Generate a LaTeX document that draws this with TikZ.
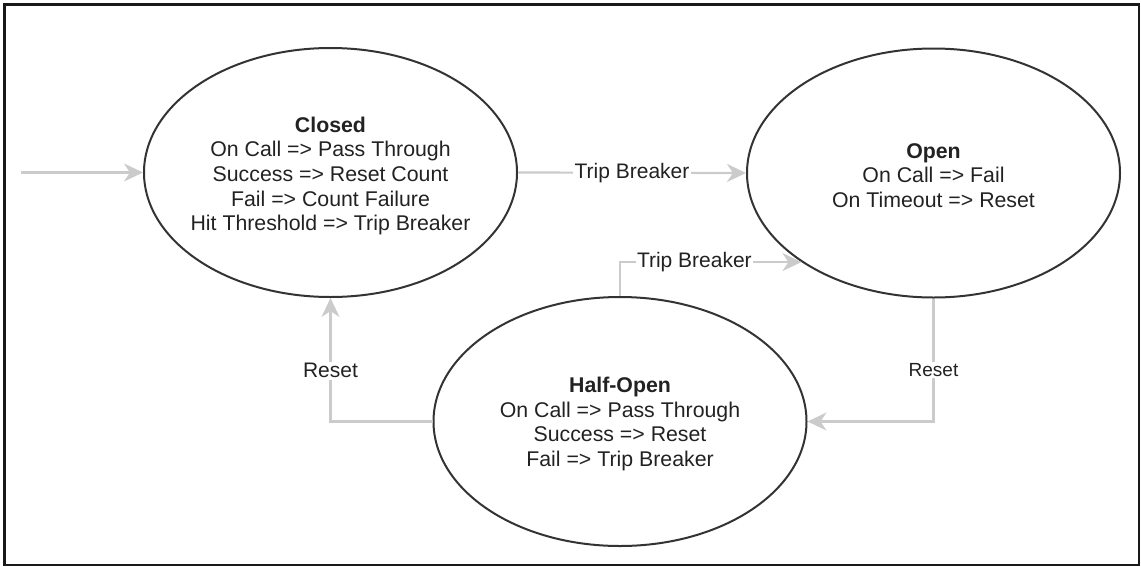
\documentclass[tikz,border=0pt]{standalone}
\usepackage{fontspec}
\setmainfont{Liberation Sans}
\usetikzlibrary{arrows.meta,shapes.geometric}

\definecolor{ink}{HTML}{222222}
\definecolor{rim}{HTML}{333333}
\definecolor{wire}{HTML}{CBCBCB}

\begin{document}
\begin{tikzpicture}[x=1pt,y=-1pt,
  state/.style={ellipse, draw=rim, line width=2pt, minimum width=373pt,
    minimum height=249pt, inner sep=0pt},
  body/.style={align=center, text=ink, inner sep=0pt,
    font=\fontsize{21.3}{24.6}\selectfont},
  flow/.style={draw=wire, line width=2.2pt,
    -{Stealth[length=19pt,width=18pt,inset=6pt]}},
  tag/.style={fill=white, text=ink, inner sep=1.5pt,
    font=\fontsize{21}{24}\selectfont},
  smalltag/.style={tag, font=\fontsize{19}{22}\selectfont}
]
% canvas and frame
\useasboundingbox (0,0) rectangle (1141,566);
\draw[line width=2.7pt, black!90] (4.3,4.5) rectangle (1139,565);

% states
\node[state] (closed) at (330.5,172.5) {};
\node[state] (open)   at (933.5,173)   {};
\node[state] (half)   at (620,421.5)   {};

\node[body, yshift=-3.5pt] (closedtext) at (closed) {\textbf{Closed}\\On Call => Pass Through\\Success => Reset Count\\Fail => Count Failure\\Hit Threshold => Trip Breaker};
\node[body, yshift=-2.5pt] (opentext) at (open) {\textbf{Open}\\On Call => Fail\\On Timeout => Reset};
\node[body, yshift=-2.5pt] (halftext) at (half) {\textbf{Half-Open}\\On Call => Pass Through\\Success => Reset\\Fail => Trip Breaker};

% transitions
\coordinate (entry) at (20.5,172.5);
\draw[flow] (entry) -- (closed.west);
\draw[flow] (closed.east) -- node[tag] {Trip Breaker} (open.west);
\draw[flow] (half.north) |- node[tag, pos=0.705] {Trip Breaker} (open.214);
\draw[flow] (half.west) -| node[tag, pos=0.705] {Reset} (closed.south);
\draw[flow] (open.south) |- node[smalltag, pos=0.29] {Reset} (half.east);
\end{tikzpicture}
\end{document}
